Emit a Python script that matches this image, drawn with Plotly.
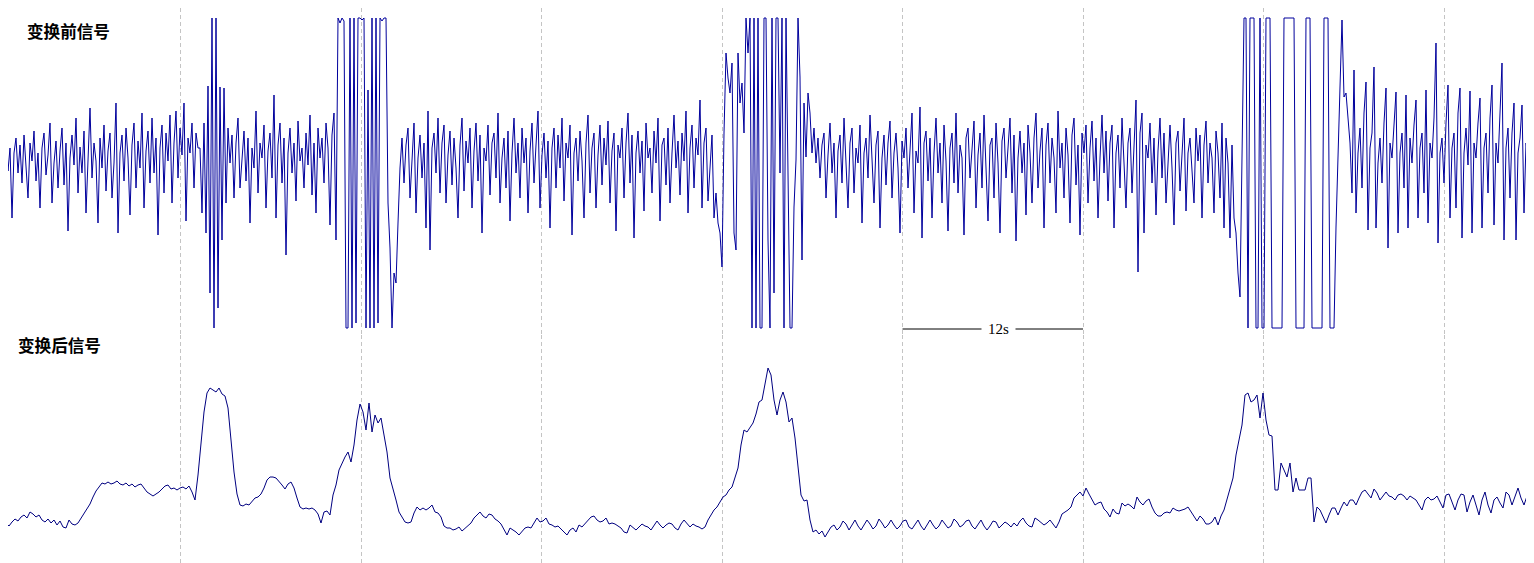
import numpy as np
import plotly.graph_objects as go

# ---------------- data: signal before transform (amplitude units) ----------------
before_quiet_1 = [13, 30, -5, 40, 2, 25, -45, 20, 35, 0, 28, -10, 38, 5, -25, 30, 12, 42, -8, 20,
                  -35, 25, 40, -2, 18, 50, -30, 10, 32, -15,
                  22, 45, -12, 30, -58, 15, 38, 8, 55, -20, 26, 0, 42, -40, 18, 65, -5, 30, 12, -50,
                  35, 5, 48, -18, 22, 40, -25, 10, 70, -60,
                  20, 38, -8, 45, 15, -42, 28, 50, -15, 32, 5, 60, -35, 22, 42, -10, 55, 0, 35, -62,
                  25, 48, -20, 40, 12, 58, -30, 30, 62, -5, 45, 18, 70, -48, 35, 20, 50, -15, 40, 25]
before_burst_1 = [25, -40, 50, -60, 87, -120, 155, -155, 155, -135, 86, -67, 85, -30, 45]
before_quiet_2 = [10, 38, -25, 30, 55, -15, 20, 42, -8, 35, -50, 25, 5, 62, -20, 30, 15, 48, -35, 22,
                  40, -5, 78, -45, 28, 50, -10, 35, -82, 20, 45, 0, 30, -28, 52, 12, 25, -15, 40, 8,
                  58, -22, 30, -40, 45, 15, 35, -10, 50, 25, -52, 38, 60]
before_clip_1 = [-67, 155, 150, 155, 152, -155, -155, 155, -155, 155, -150, 155, 155, 153, 155, -155,
                 83, -155, 155, -155, 155, -150, 155, 152, 155, 155, -30, -75, -155, -100, -110, -50]
before_quiet_3 = [5, 35, -10, 28, 45, -25, 20, 50, -40, 15, 38, -5, 30, -55, 62, -77, 25, 40, 0, 55,
                  -20, 30, 48, -30, 18, 42, -12, 35, 5, -45, 28, 55, -18, 32, 10, 45, -35, 22, 50, -8,
                  38, -60, 25, 12, 48, -22, 30, 40, -5, 60, -30, 15, 35, -15, 42, -48, 20, 55, 0, 30,
                  -25, 45, 10, 35, -40, 22, 50, -10, 28, 62, -35, 18, 40, -5, 32, -55, 25, 45, -15, 38,
                  5, 55, -28, 30, 15, 48, -62, 20, 35, -8, 42, 12, -45, 30, 58, -20, 25, 40, -35, 18,
                  48, -12, 35, 8, 52, -30, 22, 40, -58, 28, 15, 45, -25, 30, 60, -10, 38, -65, 20, 42,
                  0, 32, -38, 50, 15, 25, -20, 42, 10, 55, -48, 28, 35, -12, 45, -30, 20, 58, 5, 32,
                  -22, 40, 12, 62, -40, 25, 48, -15, 35, 18, 73, -35, 30, 45, -28, 10, 38, -45, -20, -50]
before_clip_2 = [-60, -94, 40, 120, 95, 80, 110, -60, -77, 120, 70, 90, 40, 155, 120, 155, -155, 155,
                 -155, 155, -155, -155, 155, 155, -67, -155, 155, -120, 155, 155, 0, 155, -155, 155,
                 -5, -155, -155, -34, 13, 155, 96, -87, 70, 16, 80]
before_quiet_4 = [60, 20, 45, 10, 35, -5, 28, 40, -25, 18, 50, 0, 30, -45, 22, 38, -10, 55, 15, -35,
                  30, 45, -20, 25, 10, 48, -50, 20, 35, -5, 58, 12, -30, 28, 42, -55, 15, 38, -12, 30,
                  52, -25, 20, 40, 5, -60, 32, 15, 45, -15, 28, 60, -40, 22, 10, 66, -65, 30, 42, -8,
                  35, -45, 20, 55, 0, 30, -30, 48, 12, -58, 25, 40, -10, 60, -20, 28, 15, -62, 35, 45,
                  -5, 30, 52, -35, 18, 40, -15, 58, 8, -48, 28, 35, -25, 50, 10, -60, 32, 45, -5, 25,
                  55, -20, 38, -68, 15, 42, 0, 30, -42, 48, 20, -30, 35, 60, -15, 22, 45, -55, 28, 50,
                  -10, 35, 15, -40, 62, 5, 30, -25, 45, 18, -50, 38, 55, -12, 28, -62, 40, 20, 48, -30,
                  25, 52, -8, 35, -45, 15, 58, 0, 42, -28, 30, 48, -55, 20, 38, -15, 55, 10, -35, 30,
                  45, -20, 25, 73, -99, 40, 60, -60, 28, 15, 50, -10, 35, -42, 22, 55, -5, 40, -30, 18,
                  48, 5, -52, 30, 42, -18, 25, 55, -38, 20, 35, 0, -30, 45, 12, 38, -45, 28, 52, -10,
                  30, 15, -40, 42, 20, -25, 50, -55, 35, 10, -65, 28, -45, -60]
before_clip_3 = [-100, -124, 40, 155, 155, -155, 155, 155, 155, -155, -155, 155, -155, -155, 155, 155,
                 155, -155, -155, -155, -155, -155, -155, 155, 155, 155, 155, 155, 155, -155, -155,
                 -155, -155, -155, 155, 155, 155, -155, -155, -155, -155, -155, -155, 155, 155, 155,
                 -155, -155, -155, -54, 30, 86, 153, 76, 80, 56]
before_tail = [30, -20, 103, -40, 20, 45, -15, 60, 91, -57, 25, 40, 106, -55, 10, 35, -10, 50, 85, -75,
               30, 15, 45, 81, -60, 20, 40, -15, 78, -55, 35, 10, 48, 73, -45, 25, 40, -20, 83, -50,
               30, 15, 55, 130, -70, 20, 35, -10, 50, 88, -45, 25, 40, -35, 60, 85, -65, 20, 45, 8,
               82, -60, 30, 15, 50, 75, -55, 25, 40, -20, 55, 88, -52, 30, 10, 60, 110, -67, 25, 45,
               -25, 40, 70, -67, 20, 35, 68, -40, 30, 15, 58, -25, 40]

# ---------------- data: signal after transform ----------------
after_start = [20, 18, 22, 19, 23, 26, 24, 28, 30, 27, 33, 31, 28, 30, 25, 23, 26, 22, 25, 20,
               24, 18, 17, 25, 21, 20, 22, 27, 32, 37, 41, 48, 54, 58, 62, 61, 63, 61, 62, 64,
               61, 60, 62, 59, 61, 58, 60, 61, 57, 53, 51, 49, 51, 53, 56, 59, 60, 56, 57, 55,
               57, 58, 56, 59, 53, 45, 70, 105, 133, 152, 157, 155, 153, 157, 151, 149, 137, 105, 73, 51,
               40, 39, 41, 40, 43, 47, 48, 51, 57, 65, 68, 68, 67, 64, 60, 56, 61, 63, 57, 47,
               38, 36, 37, 36, 37, 35, 31, 22, 33, 34, 30, 50, 60, 75, 82, 88, 93, 83, 100, 125,
               141, 133, 115, 142, 113, 130, 122, 127, 110, 93, 67, 57, 45, 33, 28, 23, 22, 23, 32, 38,
               35, 37, 35, 37, 40, 33, 32, 28, 19, 17, 17, 15, 16, 18, 14, 17, 20, 22, 27, 30,
               33, 29, 27, 31, 30, 26, 24, 21, 15, 10, 17]
after_middle = [15, 13, 10, 14, 17, 18, 17, 22, 27, 23, 24, 27, 21, 20, 18, 19, 16, 12, 10, 15,
                17, 13, 20, 18, 21, 24, 28, 29, 25, 23, 24, 27, 21, 22, 21, 19, 17, 13, 12, 20,
                17, 15, 18, 21, 19, 18, 15, 19, 24, 20, 17, 20, 22, 21, 17, 15, 21, 25, 21, 18,
                21, 19, 18, 16, 18, 25, 30, 35, 38, 43, 48, 50, 55, 58, 67, 77, 100, 115, 113, 117,
                122, 131, 143, 145, 160, 177, 170, 145, 130, 145, 153, 143, 123, 127, 107, 75, 50, 44, 45, 25,
                13, 15, 11, 14, 8, 13, 18, 20, 15, 18, 24, 21, 15, 20, 25, 19, 15, 20, 25, 21,
                16, 19, 26, 22, 17, 20, 25, 20, 16, 19, 24, 25, 18, 16, 21, 25, 19, 15, 20, 25,
                20, 16, 19, 25, 21, 17, 19, 26, 23, 18, 20, 24, 25, 19, 16, 21, 25, 19, 15, 19,
                24, 23, 17, 20, 23, 21, 18, 22, 19, 24]
after_end = [27, 22, 19, 18, 27, 25, 22, 20, 22, 25, 21, 17, 23, 31, 33, 35, 38, 47, 50, 53,
             49, 57, 51, 46, 40, 42, 43, 36, 33, 28, 36, 32, 31, 42, 39, 41, 39, 36, 48, 43,
             40, 44, 46, 38, 32, 29, 29, 32, 33, 32, 37, 35, 34, 35, 36, 38, 33, 29, 24, 29,
             26, 21, 21, 23, 28, 20, 29, 35, 45, 55, 67, 90, 107, 120, 150, 152, 143, 145, 150, 127,
             152, 125, 110, 109, 55, 55, 82, 75, 68, 82, 53, 67, 55, 55, 55, 67, 67, 23, 38, 35,
             28, 22, 30, 37, 37, 30, 37, 43, 39, 45, 45, 40, 47, 53, 55, 51, 47, 56, 52, 45,
             49, 53, 49, 48, 45, 50, 51, 49, 45, 49, 47, 45, 40, 35, 45, 48, 45, 46, 49, 43,
             37, 50, 51, 43, 35, 45, 51, 50, 33, 43, 50, 40, 30, 45, 53, 40, 32, 45, 48, 42,
             37, 53, 50, 40, 48, 57, 47, 40, 49, 54, 42]

grid_seconds = [12, 24, 36, 48, 60, 72, 84, 96]
scale_bar_seconds = [60, 72]
scale_bar_label = "12s"
label_before = "变换前信号"
label_after = "变换后信号"

FS_BEFORE = 7.521   # samples per second (as read)
FS_AFTER = 5.014

# page geometry: the browser puts the figure 8 px from the top-left corner
PAGE_W, PAGE_H, OFF = 1534, 563, 8
FIG_W, FIG_H = PAGE_W - OFF, PAGE_H - OFF
PX_PER_S = 15.042
SPLIT_ROW = 335  # page row separating the two panels

before = (before_quiet_1 + before_burst_1 + before_quiet_2 + before_clip_1 + before_quiet_3
          + before_clip_2 + before_quiet_4 + before_clip_3 + before_tail)
after = after_start + after_middle + after_end

t_before = np.arange(len(before)) / FS_BEFORE
t_after = np.arange(len(after)) / FS_AFTER

fig = go.Figure()
fig.add_trace(go.Scatter(x=t_before, y=before, mode="lines",
                         line=dict(color="#00009c", width=1),
                         xaxis="x", yaxis="y", hoverinfo="skip", showlegend=False))
fig.add_trace(go.Scatter(x=t_after, y=after, mode="lines",
                         line=dict(color="#000080", width=1),
                         xaxis="x", yaxis="y2", hoverinfo="skip", showlegend=False))

split = 1 - (SPLIT_ROW - OFF) / FIG_H
fig.update_layout(
    width=FIG_W, height=FIG_H,
    margin=dict(l=0, r=0, t=0, b=0, pad=0),
    paper_bgcolor="white", plot_bgcolor="white",
    showlegend=False,
    xaxis=dict(range=[OFF / PX_PER_S, PAGE_W / PX_PER_S], tickmode="array", tickvals=grid_seconds,
               showticklabels=False, ticks="", showgrid=True, gridcolor="#c4c4c4",
               gridwidth=1, griddash="4px,3px", zeroline=False, showline=False,
               anchor="y2"),
    yaxis=dict(domain=[split, 1], range=[-162, 173 - OFF], showgrid=False, zeroline=False,
               showticklabels=False, ticks="", showline=False, anchor="x"),
    yaxis2=dict(domain=[0, split], range=[-18, 210], showgrid=False, zeroline=False,
                showticklabels=False, ticks="", showline=False, anchor="x"),
)

fig.add_shape(type="line", xref="x", yref="y",
              x0=scale_bar_seconds[0], x1=scale_bar_seconds[1], y0=-156, y1=-156,
              line=dict(color="black", width=1))
fig.add_annotation(x=(scale_bar_seconds[0] + scale_bar_seconds[1]) / 2 + 0.4, y=-156,
                   xref="x", yref="y", text=scale_bar_label, showarrow=False,
                   font=dict(family="Liberation Serif", size=15, color="black"),
                   bgcolor="white", borderpad=6)
fig.add_annotation(x=(25 - OFF) / FIG_W, y=1 - (31 - OFF) / FIG_H, xref="paper", yref="paper",
                   xanchor="left", yanchor="middle", text="<b>%s</b>" % label_before,
                   showarrow=False, font=dict(family="Noto Sans CJK SC", size=16.6, color="black"))
fig.add_annotation(x=(16 - OFF) / FIG_W, y=1 - (345 - OFF) / FIG_H, xref="paper", yref="paper",
                   xanchor="left", yanchor="middle", text="<b>%s</b>" % label_after,
                   showarrow=False, font=dict(family="Noto Sans CJK SC", size=16.6, color="black"))

fig.write_html("out.html")
